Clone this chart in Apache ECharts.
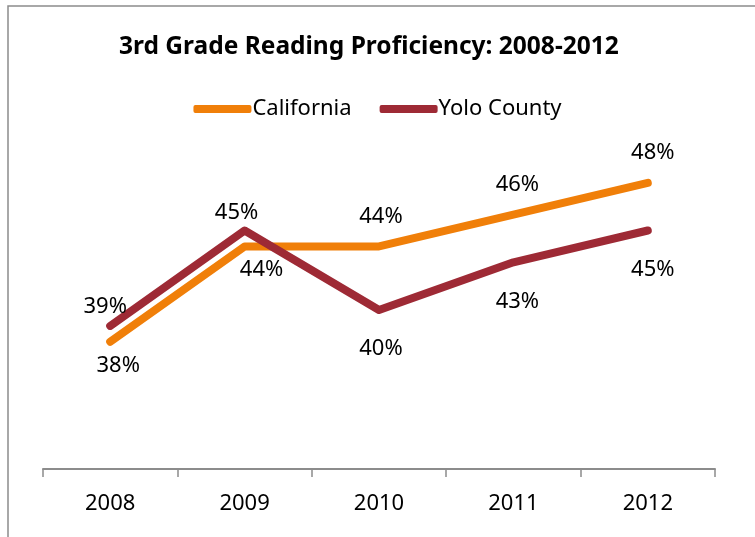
<!DOCTYPE html>
<html>
<head>
<meta charset="utf-8">
<script src="https://cdn.jsdelivr.net/npm/echarts@6/dist/echarts.min.js"></script>
<style>
  html, body { margin: 0; padding: 0; background: #fff; }
  #main { width: 755px; height: 537px; }
</style>
</head>
<body>
<div id="main"></div>
<script>
  // data
  const years = ['2008', '2009', '2010', '2011', '2012'];
  const california = [38, 44, 44, 46, 48];
  const yolo = [39, 45, 40, 43, 45];

  // label placement: [position, distance, x shift]
  const calLabels = [['bottom', 13, 8], ['bottom', 12, 17], ['top', 19, 2], ['top', 19, 4], ['top', 19, 5]];
  const yoloLabels = [['top', 8, -5], ['top', 7, -8], ['bottom', 28, 2], ['bottom', 28, 4], ['bottom', 28, 5]];

  const font = 'Noto Sans';

  function items(vals, lab) {
    return vals.map((v, i) => ({
      value: v,
      label: { position: lab[i][0], distance: lab[i][1], offset: [lab[i][2], 0] }
    }));
  }

  function lineSeries(name, vals, lab, color) {
    return {
      name: name,
      type: 'line',
      data: items(vals, lab),
      symbol: 'circle',
      symbolSize: 0,
      color: color,
      lineStyle: { width: 8, cap: 'round', join: 'round', color: color },
      label: {
        show: true,
        formatter: '{c}%',
        fontFamily: font, fontSize: 22, color: '#000'
      }
    };
  }

  const chart = echarts.init(document.getElementById('main'));
  chart.setOption({
    animation: false,
    graphic: [{
      type: 'rect',
      shape: { x: 8, y: 6, width: 800, height: 600 },
      style: { fill: 'none', stroke: '#8c8c8c', lineWidth: 1.5 },
      silent: true
    }],
    title: {
      text: '3rd Grade Reading Proficiency: 2008-2012',
      left: 114,
      top: 30,
      textStyle: { fontFamily: font, fontWeight: 'bold', fontSize: 24.5, color: '#000' }
    },
    legend: {
      top: 93,
      left: 'center',
      itemWidth: 58,
      itemHeight: 8,
      itemGap: 28,
      icon: 'roundRect',
      textStyle: { fontFamily: font, fontSize: 22, color: '#000', padding: [0, 0, 0, -4] },
      data: ['California', 'Yolo County']
    },
    grid: { left: 43, right: 40, top: 151, bottom: 68 },
    xAxis: {
      type: 'category',
      data: years,
      boundaryGap: true,
      axisLine: { lineStyle: { color: '#8c8c8c', width: 2 } },
      axisTick: { show: true, alignWithLabel: false, length: 8, lineStyle: { color: '#8c8c8c', width: 1.5 } },
      axisLabel: { fontFamily: font, fontSize: 22, color: '#000', margin: 24 }
    },
    yAxis: {
      type: 'value',
      min: 30,
      max: 50,
      show: false,
      splitLine: { show: false }
    },
    series: [
      lineSeries('California', california, calLabels, '#F07F09'),
      lineSeries('Yolo County', yolo, yoloLabels, '#9E2A35')
    ]
  });
</script>
</body>
</html>
